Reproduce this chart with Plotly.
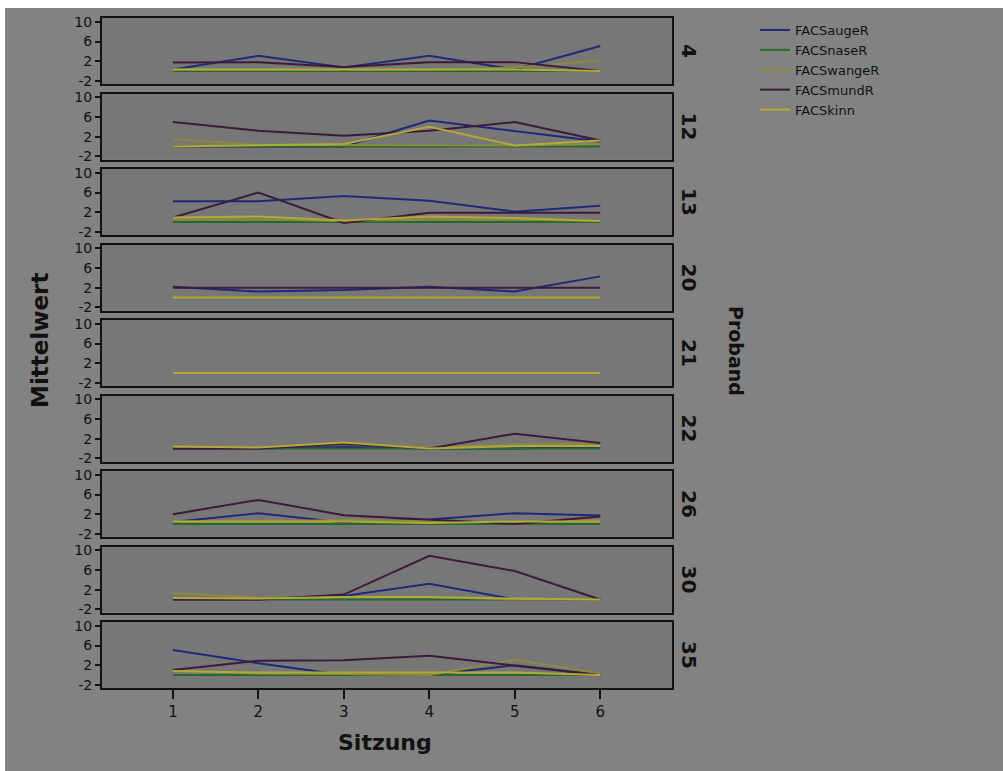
import plotly.graph_objects as go
from plotly.subplots import make_subplots

sessions = [1, 2, 3, 4, 5, 6]
probands = ["4", "12", "13", "20", "21", "22", "26", "30", "35"]
series_names = ["FACSaugeR", "FACSnaseR", "FACSwangeR", "FACSmundR", "FACSkinn"]

augeR = [
    [0.3, 3.1, 0.7, 3.1, 0.3, 5.1],
    [0.0, 0.0, 0.0, 5.3, 3.2, 1.0],
    [4.2, 4.2, 5.3, 4.3, 2.1, 3.3],
    [2.2, 1.2, 1.5, 2.2, 1.2, 4.3],
    [0.0, 0.0, 0.0, 0.0, 0.0, 0.0],
    [0.0, 0.0, 0.3, 0.0, 0.0, 0.3],
    [0.4, 2.2, 0.3, 0.9, 2.2, 1.7],
    [0.0, 0.0, 0.7, 3.2, 0.0, 0.0],
    [5.1, 2.4, 0.0, 0.0, 2.0, 0.0],
]
naseR = [
    [0.0, 0.0, 0.0, 0.0, 0.0, 0.0],
    [0.0, 0.0, 0.0, 0.0, 0.0, 0.0],
    [0.0, 0.0, 0.0, 0.0, 0.0, 0.0],
    [0.0, 0.0, 0.0, 0.0, 0.0, 0.0],
    [0.0, 0.0, 0.0, 0.0, 0.0, 0.0],
    [0.0, 0.0, 0.0, 0.0, 0.0, 0.0],
    [0.0, 0.0, 0.0, 0.0, 0.0, 0.0],
    [0.0, 0.0, 0.0, 0.0, 0.0, 0.0],
    [0.0, 0.0, 0.0, 0.0, 0.0, 0.0],
]
wangeR = [
    [0.3, 0.3, 0.3, 0.3, 0.7, 2.2],
    [1.5, 0.3, 0.3, 0.3, 0.2, 0.5],
    [0.5, 0.5, 0.2, 0.5, 0.5, 0.2],
    [0.0, 0.0, 0.0, 0.0, 0.0, 0.0],
    [0.0, 0.0, 0.0, 0.0, 0.0, 0.0],
    [0.2, 0.2, 1.0, 0.2, 0.8, 1.0],
    [0.5, 0.5, 0.8, 0.5, 0.3, 0.8],
    [1.3, 0.3, 0.5, 0.5, 0.0, 0.0],
    [0.8, 0.3, 0.2, 0.0, 3.1, 0.3],
]
mundR = [
    [1.7, 1.8, 0.8, 1.8, 1.8, 0.0],
    [5.0, 3.2, 2.2, 3.2, 5.0, 1.2],
    [0.9, 6.0, -0.2, 1.9, 1.9, 1.9],
    [2.0, 2.0, 2.0, 2.0, 2.0, 2.0],
    [0.0, 0.0, 0.0, 0.0, 0.0, 0.0],
    [0.0, 0.0, 0.9, 0.0, 3.0, 1.1],
    [2.0, 4.9, 1.8, 0.9, 0.0, 1.5],
    [0.0, 0.0, 1.0, 8.9, 5.8, 0.0],
    [1.0, 2.9, 3.0, 3.9, 1.9, 0.0],
]
kinn = [
    [0.3, 0.3, 0.3, 0.3, 0.3, 0.0],
    [0.0, 0.3, 0.5, 4.0, 0.2, 1.2],
    [0.9, 1.1, 0.3, 1.1, 0.8, 0.2],
    [0.0, 0.0, 0.0, 0.0, 0.0, 0.0],
    [0.0, 0.0, 0.0, 0.0, 0.0, 0.0],
    [0.4, 0.2, 1.2, 0.0, 0.5, 0.5],
    [0.5, 0.5, 0.5, 0.2, 0.5, 0.5],
    [0.3, 0.2, 0.5, 0.5, 0.2, 0.0],
    [0.8, 0.5, 0.5, 0.5, 0.5, 0.0],
]
y_ticks = [-2, 2, 6, 10]

series_data = [augeR, naseR, wangeR, mundR, kinn]
colors = ["#1e2878", "#226b2c", "#8c8a3c", "#3c1a3c", "#b4a838"]

W, H = 1003, 771
L, R, T, B = 102, 331, 18, 83
pw, ph = W - L - R, H - T - B
def px(p):
    return (p - L) / pw
def py(q):
    return (H - B - q) / ph

n = len(probands)
fig = make_subplots(rows=n, cols=1, shared_xaxes=True, vertical_spacing=9.5 / ph)

FONT = "DejaVu Sans"
for i in range(n):
    for s, name in enumerate(series_names):
        fig.add_trace(go.Scatter(
            x=sessions, y=series_data[s][i], mode="lines", name=name,
            line=dict(color=colors[s], width=2),
            showlegend=(i == 0), legendgroup=name,
        ), row=i + 1, col=1)
    bottom = (i == n - 1)
    fig.update_xaxes(
        range=[0.17, 6.84], showgrid=False, zeroline=False,
        showline=True, mirror=True, linecolor="#111111", linewidth=2,
        tickvals=sessions, ticks="outside" if bottom else "",
        ticklen=9, tickwidth=2, tickcolor="#111111",
        showticklabels=bottom, tickfont=dict(family=FONT, size=15, color="#111111"),
        row=i + 1, col=1)
    fig.update_yaxes(
        range=[-2.66, 10.8], showgrid=False, zeroline=False,
        showline=True, mirror=True, linecolor="#111111", linewidth=2,
        tickvals=y_ticks, ticktext=[str(v) for v in y_ticks],
        ticks="outside", ticklen=5, tickwidth=2, tickcolor="#111111",
        tickfont=dict(family=FONT, size=14, color="#111111"),
        row=i + 1, col=1)

annotations = []
# facet labels on right
for i, p in enumerate(probands):
    yd = fig.layout["yaxis" + ("" if i == 0 else str(i + 1))].domain
    annotations.append(dict(
        x=px(689), y=(yd[0] + yd[1]) / 2, xref="paper", yref="paper",
        text=p, showarrow=False, textangle=90,
        font=dict(family=FONT, size=20, color="#111111", weight="bold"),
        xanchor="center", yanchor="middle"))
annotations.append(dict(
    x=px(736), y=py(351), xref="paper", yref="paper", text="Proband",
    showarrow=False, textangle=90, xanchor="center", yanchor="middle",
    font=dict(family=FONT, size=19, color="#111111", weight="bold")))
annotations.append(dict(
    x=px(40), y=py(341), xref="paper", yref="paper", text="Mittelwert",
    showarrow=False, textangle=-90, xanchor="center", yanchor="middle",
    font=dict(family=FONT, size=23, color="#111111", weight="bold")))
annotations.append(dict(
    x=px(385), y=py(743), xref="paper", yref="paper", text="Sitzung",
    showarrow=False, xanchor="center", yanchor="middle",
    font=dict(family=FONT, size=22, color="#111111", weight="bold")))

shapes = [
    dict(type="rect", xref="paper", yref="paper", x0=px(0), x1=px(W), y0=py(8), y1=py(0),
         fillcolor="#ffffff", line=dict(width=0), layer="above"),
    dict(type="rect", xref="paper", yref="paper", x0=px(0), x1=px(5), y0=py(H), y1=py(0),
         fillcolor="#ffffff", line=dict(width=0), layer="above"),
]

fig.update_layout(
    width=W, height=H,
    margin=dict(l=L, r=R, t=T, b=B),
    paper_bgcolor="#828282", plot_bgcolor="#777777",
    font=dict(family=FONT, color="#111111"),
    annotations=annotations, shapes=shapes,
    legend=dict(x=px(755), y=py(15), xanchor="left", yanchor="top",
                bgcolor="rgba(0,0,0,0)", font=dict(family=FONT, size=13, color="#111111"),
                itemwidth=30, tracegroupgap=0),
)

fig.write_html("out.html")
